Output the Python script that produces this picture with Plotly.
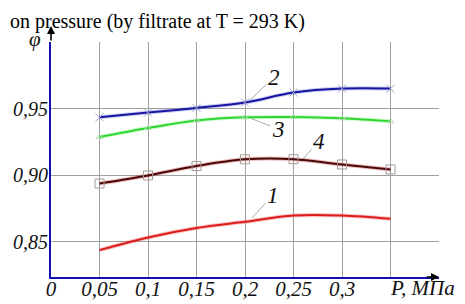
import plotly.graph_objects as go

P = [0.05, 0.10, 0.15, 0.20, 0.25, 0.30, 0.35]
phi_1 = [0.8437, 0.8532, 0.8603, 0.8650, 0.8697, 0.8697, 0.8672]
phi_2 = [0.9434, 0.9470, 0.9505, 0.9545, 0.9620, 0.9650, 0.9650]
phi_3 = [0.9286, 0.9354, 0.9410, 0.9434, 0.9437, 0.9427, 0.9404]
phi_4 = [0.8937, 0.8998, 0.9068, 0.9119, 0.9120, 0.9080, 0.9043]

x_ticks = [0, 0.05, 0.10, 0.15, 0.20, 0.25, 0.30, 0.35, 0.40]
x_labels = ["0", "0,05", "0,1", "0,15", "0,2", "0,25", "0,3", "", ""]
y_ticks = [0.85, 0.90, 0.95, 1.00]
y_labels = ["0,85", "0,90", "0,95", ""]

curve_labels = [("1", 0.2072, 0.8678, 21, -23),
                ("2", 0.2052, 0.9564, 24, -23),
                ("3", 0.2052, 0.9429, 28, 11),
                ("4", 0.2598, 0.9121, 16, -18)]

Y0, Y1 = 0.8235, 1.0
SERIF = "Liberation Serif"

fig = go.Figure()

# soft halos
for ys, col in [(phi_1, "rgba(240,80,80,0.35)"), (phi_3, "rgba(120,240,120,0.35)"),
                (phi_4, "rgba(200,60,60,0.35)"), (phi_2, "rgba(90,90,220,0.3)")]:
    fig.add_trace(go.Scatter(x=P, y=ys, mode="lines", line=dict(color=col, width=4, shape="spline"),
                             hoverinfo="skip", showlegend=False))

fig.add_trace(go.Scatter(x=P, y=phi_1, mode="lines",
                         line=dict(color="#dd1c1c", width=2, shape="spline"), showlegend=False))
fig.add_trace(go.Scatter(x=P, y=phi_3, mode="lines+markers",
                         line=dict(color="#2fd62f", width=2, shape="spline"),
                         marker=dict(symbol="triangle-up-open", size=6, color="#b8dcb8", line=dict(width=1)),
                         showlegend=False))
fig.add_trace(go.Scatter(x=P, y=phi_4, mode="lines+markers",
                         line=dict(color="#4a0808", width=2, shape="spline"),
                         marker=dict(symbol="square-open", size=9, color="#a89898", line=dict(width=1)),
                         showlegend=False))
fig.add_trace(go.Scatter(x=P, y=phi_2, mode="lines+markers",
                         line=dict(color="#1616a0", width=2, shape="spline"),
                         marker=dict(symbol="x-thin-open", size=8, color="#a4a4d4", line=dict(width=1, color="#a4a4d4")),
                         showlegend=False))

annotations = []
for txt, x, y, ax, ay in curve_labels:
    annotations.append(dict(x=x, y=y, xref="x", yref="y", text="<i>%s</i>" % txt,
                            showarrow=True, arrowhead=0, arrowwidth=1, arrowcolor="#a8a8a8",
                            ax=ax, ay=ay, standoff=0,
                            font=dict(family=SERIF, size=23, color="#111")))

# axis arrows
annotations.append(dict(x=0.4, y=Y0, xref="x", yref="y", text="", showarrow=True,
                        arrowhead=2, arrowsize=1, arrowwidth=1.6, arrowcolor="black",
                        ax=-14, ay=0))
annotations.append(dict(x=0, y=(235 + 16) / 235, xref="x", yref="paper", text="", showarrow=True,
                        arrowhead=2, arrowsize=1, arrowwidth=1.6, arrowcolor="black",
                        ax=0, ay=16))
# axis names
annotations.append(dict(x=0.35, y=0, xref="x", yref="paper", text="<i>P, МПа</i>",
                        showarrow=False, xanchor="left", yanchor="top", xshift=-3, yshift=3,
                        font=dict(family=SERIF, size=21, color="#111")))
annotations.append(dict(x=0, y=1.0, xref="x", yref="y", text="<i>φ</i>",
                        showarrow=False, xanchor="right", yanchor="middle", xshift=-8, yshift=3,
                        font=dict(family=SERIF, size=21, color="#111")))
# title fragment
annotations.append(dict(x=-43 / 388, y=1 + 34 / 235, xref="paper", yref="paper",
                        text="on pressure (by filtrate at T = 293 K)", showarrow=False,
                        xanchor="left", yanchor="top", yshift=0,
                        font=dict(family=SERIF, size=20, color="black")))

# page shows the figure offset by the default 8px body margin; compensate here
fig.update_layout(
    width=465, height=304,
    margin=dict(l=43, r=34, t=34, b=35, autoexpand=False),
    paper_bgcolor="white", plot_bgcolor="white",
    annotations=annotations,
    xaxis=dict(range=[0, 0.4], tickvals=x_ticks, ticktext=["<i>%s</i>" % t for t in x_labels],
               showgrid=True, gridcolor="#a0a0a0", gridwidth=1, zeroline=False,
               showline=True, linecolor="#1010b0", linewidth=2, automargin=False,
               ticks="", ticklabelstandoff=-8, tickangle=0,
               tickfont=dict(family=SERIF, size=21, color="#111")),
    yaxis=dict(range=[Y0, Y1], tickvals=y_ticks, ticktext=["<i>%s</i>" % t for t in y_labels],
               showgrid=True, gridcolor="#a0a0a0", gridwidth=1, zeroline=False,
               showline=True, linecolor="#1010b0", linewidth=2, automargin=False,
               ticks="", ticklabelstandoff=-3,
               tickfont=dict(family=SERIF, size=20, color="#111")),
)

fig.write_html("out.html")
